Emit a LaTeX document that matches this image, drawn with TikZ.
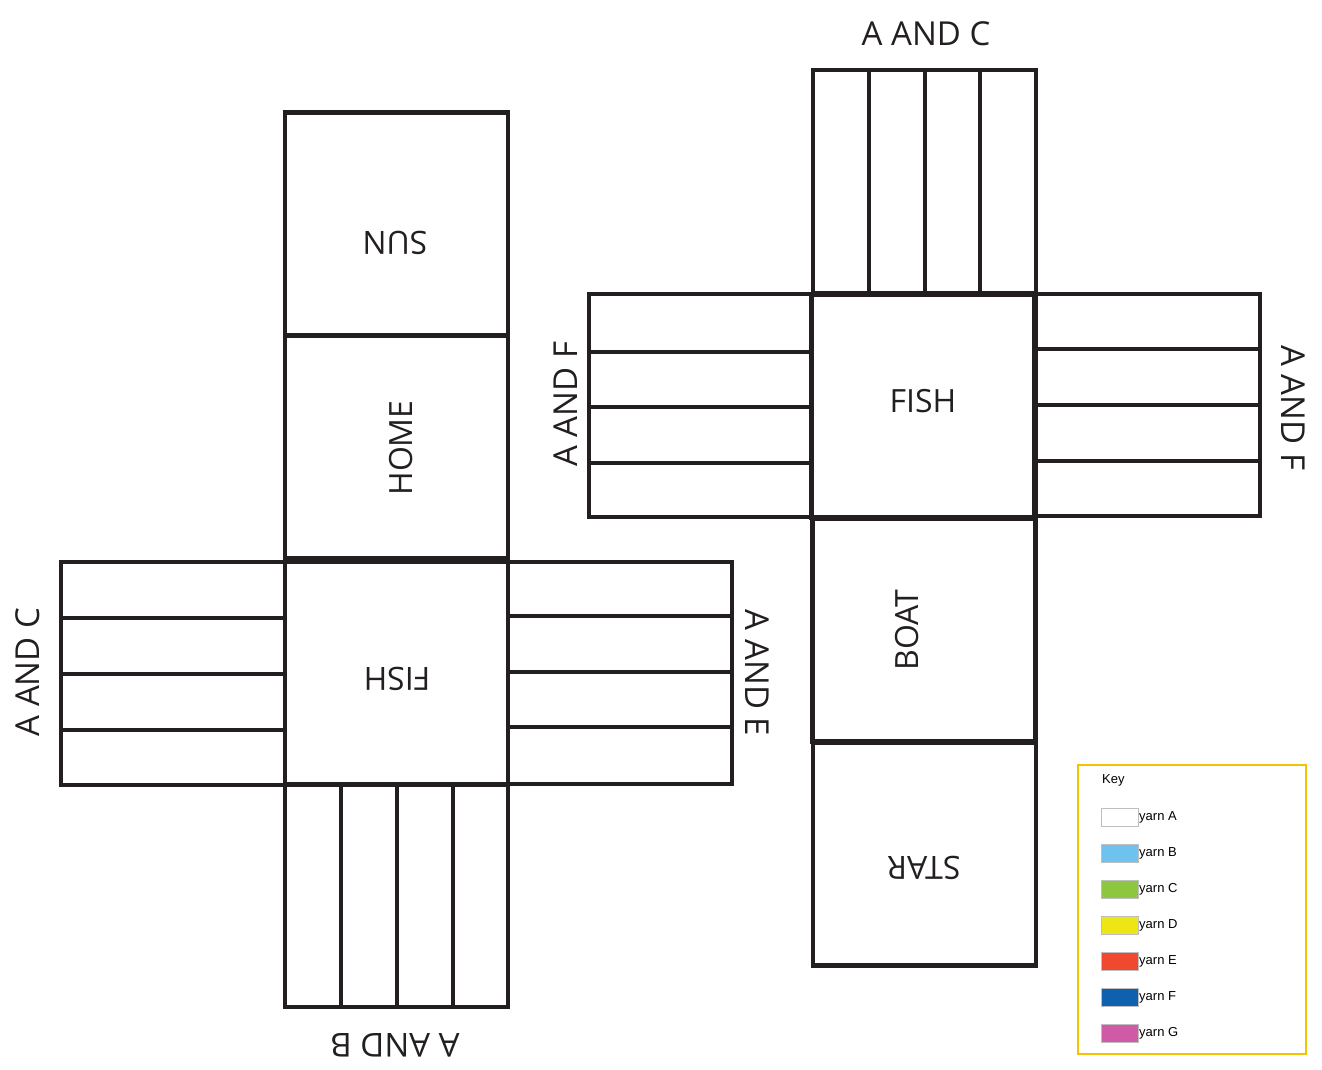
\documentclass[tikz,border=0pt]{standalone}
\usepackage{fontspec}
\setmainfont{Open Sans}
\newfontfamily\keyfont{Liberation Sans}
\definecolor{ink}{HTML}{231F20}
\definecolor{keyframe}{HTML}{F5C200}
\definecolor{yB}{HTML}{6EC3EE}
\definecolor{yC}{HTML}{8DC63F}
\definecolor{yD}{HTML}{EEE614}
\definecolor{yE}{HTML}{EF4A30}
\definecolor{yF}{HTML}{1060B0}
\definecolor{yG}{HTML}{D05AA5}
\begin{document}
\begin{tikzpicture}[x=1pt,y=-1pt,
  sq/.style={draw=ink, line width=4.5pt, minimum width=223pt, minimum height=223pt, inner sep=0pt},
  armline/.style={draw=ink, line width=3.2pt},
  word/.style={font=\fontsize{32}{36}\selectfont, inner sep=0pt, text=ink},
  lbl/.style={font=\fontsize{33}{38}\selectfont, inner sep=0pt, text=ink},
  sw/.style={draw=black!25, line width=0.8pt, minimum width=37pt, minimum height=18pt, inner sep=0pt},
  kt/.style={font=\keyfont\fontsize{13}{15}\selectfont, anchor=west, inner sep=0pt}]
\useasboundingbox (0,0) rectangle (1322,1070);

% ---------- left cross ----------
\node[sq] (sun) at (396.5,224) {};
\node[sq] (home) at (396.5,447) {};
\node[sq] (fishL) at (396.5,673) {};
% left arm
\draw[armline] (61,562) rectangle (285,785);
\foreach \y in {618,674,730} \draw[armline] (61,\y) -- (285,\y);
% right arm
\draw[armline] (508,562) rectangle (732,784);
\foreach \y in {616,672,727} \draw[armline] (508,\y) -- (732,\y);
% bottom arm
\draw[armline] (285,785) rectangle (508,1007);
\foreach \x in {341,397,453} \draw[armline] (\x,785) -- (\x,1007);
\node[sq] at (396.5,673) {};

\node[word, rotate=180] (tsun) at (395,243) {SUN};
\node[word, rotate=90] (thome) at (401,448) {HOME};
\node[word, rotate=180] (tfishL) at (397,679) {FISH};
\node[lbl, rotate=90] (lAC) at (28,672) {A AND C};
\node[lbl, rotate=-90] (lAE) at (757,673) {A AND E};
\node[lbl, rotate=180] (lAB) at (395,1045) {A AND B};

% ---------- right cross ----------
\draw[armline] (813,70) rectangle (1036,293);
\foreach \x in {869,925,980} \draw[armline] (\x,70) -- (\x,293);
\draw[armline] (589,294) rectangle (811,517);
\foreach \y in {352,407,463} \draw[armline] (589,\y) -- (811,\y);
\draw[armline] (1036,294) rectangle (1260,516);
\foreach \y in {349,405,461} \draw[armline] (1036,\y) -- (1260,\y);
\node[sq] (fishR) at (923,406) {};
\node[sq] (boat) at (924,630) {};
\node[sq] (star) at (924.5,854) {};

\node[word] (tfishR) at (923,401) {FISH};
\node[word, rotate=90] (tboat) at (907,630) {BOAT};
\node[word, rotate=180] (tstar) at (924,868) {STAR};
\node[lbl] (rAC) at (926,34) {A AND C};
\node[lbl, rotate=90] (rAFl) at (566,404) {A AND F};
\node[lbl, rotate=-90] (rAFr) at (1293,408) {A AND F};

% ---------- key ----------
\node[draw=keyframe, line width=2pt, minimum width=228pt, minimum height=289pt, inner sep=0pt] (key) at (1192,909.5) {};
\node[kt] (keytitle) at (1102,780) {Key};
\foreach \c/\n/\yy in {white/A/817, yB/B/853, yC/C/889, yD/D/925, yE/E/961, yF/F/997, yG/G/1033}{
  \node[sw, fill=\c] (sw\n) at (1119.5,\yy) {};
  \node[kt] (t\n) at (1139,\yy) {yarn \n};
}
\end{tikzpicture}
\end{document}
